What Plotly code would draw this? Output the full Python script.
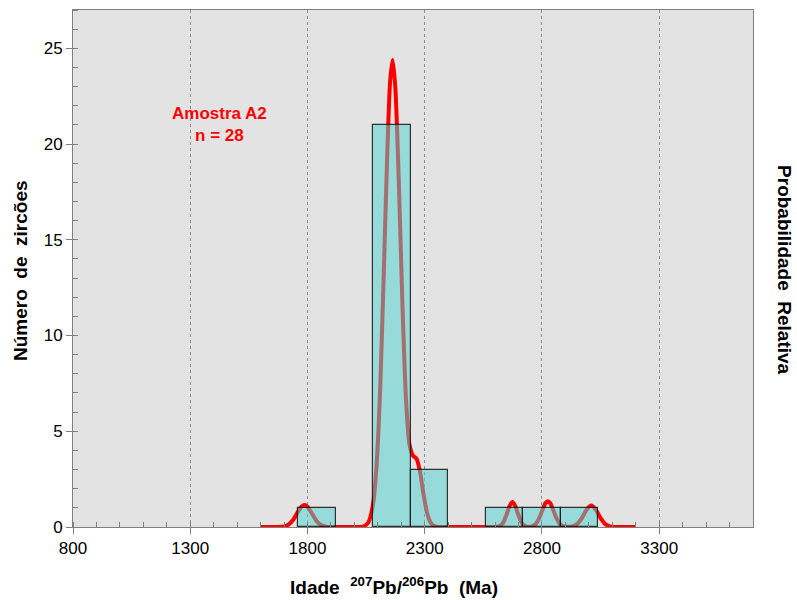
import plotly.graph_objects as go

# Histogram of zircon ages (bin start, Ma) and counts per 160 Ma bin
bin_starts = [1760, 2080, 2240, 2560, 2720, 2880]
bin_counts = [1, 21, 3, 1, 1, 1]
bin_width = 160

# Relative probability curve (age in Ma, height on the count scale)
curve_age = [1600, 1650, 1700, 1720, 1740, 1760, 1775, 1787, 1800, 1820, 1840, 1860, 1880, 1900,
             1950, 2000, 2040, 2060, 2080, 2095, 2110, 2125, 2140, 2152, 2163, 2175, 2190, 2205,
             2220, 2235, 2250, 2265, 2280, 2295, 2310, 2325, 2340, 2360, 2450, 2550, 2600, 2620,
             2635, 2650, 2662, 2674, 2686, 2698, 2713, 2728, 2745, 2760, 2775, 2790, 2805, 2815,
             2825, 2835, 2845, 2860, 2875, 2890, 2910, 2930, 2950, 2970, 2990, 3010, 3030, 3050,
             3070, 3090, 3110, 3150, 3200]
curve_prob = [0, 0, 0.03, 0.13, 0.39, 0.81, 1.07, 1.15, 1.06, 0.68, 0.29, 0.09, 0.02, 0,
              0, 0, 0.04, 0.25, 1.24, 3.3, 7.2, 13.1, 19.4, 23.2, 24.4, 22.9, 17.85, 11.6,
              6.7, 4.3, 3.73, 3.57, 2.88, 1.7, 0.74, 0.23, 0.05, 0, 0, 0, 0, 0.05,
              0.23, 0.68, 1.1, 1.3, 1.1, 0.68, 0.23, 0.05, 0.01, 0.05, 0.18, 0.51, 0.98, 1.25,
              1.35, 1.25, 0.98, 0.51, 0.18, 0.05, 0.01, 0.03, 0.15, 0.46, 0.9, 1.12, 0.9, 0.46,
              0.15, 0.03, 0, 0, 0]

x_ticks = [800, 1300, 1800, 2300, 2800, 3300]
y_ticks = [0, 5, 10, 15, 20, 25]

FONT = "Liberation Sans, Arial, sans-serif"
AXIS_GRAY = "#808080"

fig = go.Figure()

fig.add_trace(go.Scatter(
    x=curve_age, y=curve_prob, mode="lines", yaxis="y",
    line=dict(color="#ff0000", width=4, shape="spline", smoothing=0.6),
    showlegend=False, hoverinfo="skip",
))

fig.add_trace(go.Bar(
    x=bin_starts, y=bin_counts, width=bin_width, offset=0, yaxis="y2",
    marker=dict(color="rgba(82,210,210,0.53)",
                line=dict(color="rgba(20,20,20,0.85)", width=1.2)),
    showlegend=False,
))

fig.update_layout(
    width=797, height=600,
    margin=dict(l=73, r=44, t=10, b=73),
    paper_bgcolor="white",
    plot_bgcolor="#e3e3e3",
    font=dict(family=FONT, size=17, color="black"),
    bargap=0,
    xaxis=dict(
        range=[800, 3700], tickvals=x_ticks, ticktext=[str(v) for v in x_ticks],
        ticks="outside", ticklen=6, tickcolor=AXIS_GRAY,
        showline=True, linecolor=AXIS_GRAY, linewidth=1, mirror=True,
        showgrid=True, gridcolor="#8c8c8c", griddash="dot", gridwidth=1,
        zeroline=False,
        minor=dict(dtick=100, tick0=800, ticks="inside", ticklen=5,
                   tickcolor=AXIS_GRAY, showgrid=False),
        tickfont=dict(size=17),
    ),
    yaxis=dict(
        range=[0, 27], showticklabels=False, ticks="", showgrid=False,
        zeroline=False, showline=True, linecolor=AXIS_GRAY, mirror=True,
    ),
    yaxis2=dict(
        range=[0, 27], overlaying="y", side="left", tickvals=y_ticks,
        ticks="outside", ticklen=6, tickcolor=AXIS_GRAY,
        showgrid=False, zeroline=False, showline=False,
        minor=dict(dtick=1, tick0=0, ticks="inside", ticklen=5,
                   tickcolor=AXIS_GRAY, showgrid=False),
        tickfont=dict(size=17),
    ),
    annotations=[
        dict(text="<b>Amostra A2<br>n = 28</b>", x=1423, y=21.0, xref="x", yref="y2",
             showarrow=False, font=dict(size=17, color="#ff0000"), align="center"),
        dict(text="<b>Idade\u00a0\u00a0<sup>207</sup>Pb/<sup>206</sup>Pb\u00a0\u00a0(Ma)</b>",
             x=0.472, y=-0.114, xref="paper", yref="paper", showarrow=False,
             font=dict(size=19), xanchor="center", yanchor="middle"),
        dict(text="<b>Número\u00a0\u00a0de\u00a0\u00a0zircões</b>", x=-0.078, y=0.497,
             xref="paper", yref="paper", showarrow=False, textangle=-90,
             font=dict(size=19), xanchor="center", yanchor="middle"),
        dict(text="<b>Probabilidade\u00a0\u00a0Relativa</b>", x=1.047, y=0.497,
             xref="paper", yref="paper", showarrow=False, textangle=90,
             font=dict(size=19), xanchor="center", yanchor="middle"),
    ],
)

fig.write_html("out.html")
